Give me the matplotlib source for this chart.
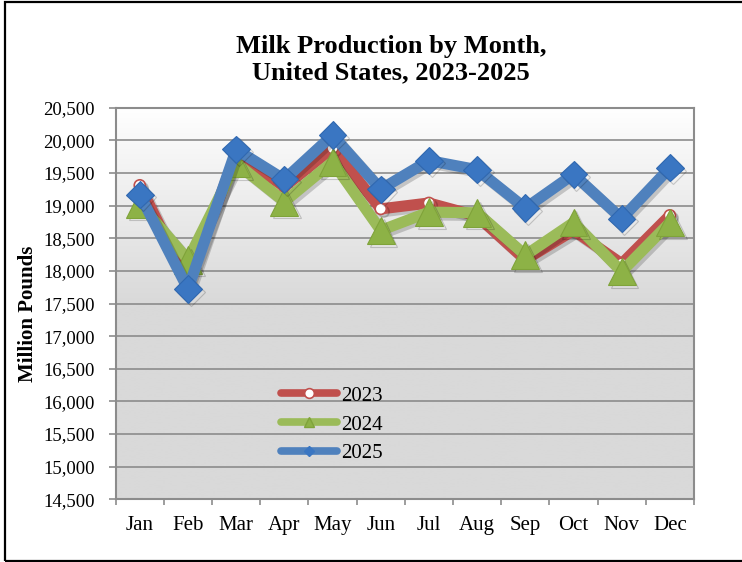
import numpy as np
import matplotlib
matplotlib.use("Agg")
import matplotlib.pyplot as plt
import matplotlib.patheffects as pe
from matplotlib.colors import LinearSegmentedColormap
from matplotlib.lines import Line2D
from matplotlib.patches import Rectangle
from matplotlib.ticker import FuncFormatter, FixedLocator

plt.rcParams['font.family'] = ['Liberation Serif', 'DejaVu Serif']

months = ['Jan', 'Feb', 'Mar', 'Apr', 'May', 'Jun', 'Jul', 'Aug', 'Sep', 'Oct', 'Nov', 'Dec']
prod_2023 = [19310, 17820, 19800, 19290, 19880, 18950, 19040, 18840, 18170, 18620, 18110, 18850]
prod_2024 = [19030, 18170, 19650, 19060, 19670, 18620, 18900, 18890, 18240, 18740, 17990, 18740]
prod_2025 = [19170, 17720, 19860, 19400, 20080, 19250, 19690, 19550, 18960, 19480, 18800, 19580]
years = ['2023', '2024', '2025']

W, H = 742, 562
fig = plt.figure(figsize=(W / 100, H / 100), dpi=100)
ax = fig.add_axes([115.7 / W, 1 - 499.3 / H, (694 - 115.7) / W, (499.3 - 107.7) / H])

# plot area gradient, white at top to grey lower down
grad_cmap = LinearSegmentedColormap.from_list('bg', ['#d9d9d9', '#d9d9d9', '#ffffff'])
grad = np.linspace(0, 1, 256).reshape(-1, 1)
ax.imshow(grad, extent=[-0.5, 11.5, 14500, 20500], aspect='auto', cmap=grad_cmap,
          origin='lower', zorder=0, interpolation='bicubic')

x = np.arange(len(months))
shadow = [pe.SimpleLineShadow(offset=(2, -2), shadow_color='black', alpha=0.18), pe.Normal()]

ax.plot(x, prod_2023, color='#c0504d', lw=8, solid_joinstyle='round', solid_capstyle='round',
        marker='o', ms=8, mfc='white', mec='#c0504d', mew=1.2, zorder=3, path_effects=shadow)
ax.plot(x, prod_2024, color='#9bbb59', lw=8, solid_joinstyle='round', solid_capstyle='round',
        marker='^', ms=20, mfc='#8db246', mec='#7fa33a', mew=0.8, zorder=4, path_effects=shadow)
ax.plot(x, prod_2025, color='#4f81bd', lw=8, solid_joinstyle='round', solid_capstyle='round',
        marker='D', ms=14, mfc='#3a76c2', mec='#3068b0', mew=0.8, zorder=5, path_effects=shadow)

ax.set_xlim(-0.5, 11.5)
ax.set_ylim(14500, 20500)

ax.yaxis.set_major_locator(FixedLocator(np.arange(14500, 20501, 500)))
ax.yaxis.set_major_formatter(FuncFormatter(lambda v, p: f'{int(v):,}'))
ax.set_xticks(x)
ax.set_xticklabels(months)
ax.set_xticks(np.arange(-0.5, 12, 1), minor=True)

ax.grid(axis='y', color='#8c8c8c', lw=1.2)
ax.set_axisbelow(True)
for s in ax.spines.values():
    s.set_color('#8c8c8c')
    s.set_linewidth(1.5)

ax.tick_params(axis='y', which='major', length=5, width=1.2, color='#8c8c8c',
               labelsize=13.5, pad=10)
ax.tick_params(axis='x', which='major', length=0, labelsize=15, pad=12)
ax.tick_params(axis='x', which='minor', length=4, width=1.2, color='#8c8c8c')

ax.set_ylabel('Million Pounds', fontsize=15, fontweight='bold')
ax.yaxis.set_label_coords(-0.135, 0.473)

fig.text(391 / W, 1 - 59.5 / H, 'Milk Production by Month,\nUnited States, 2023-2025',
         ha='center', va='center', fontsize=19, fontweight='bold', linespacing=1.2)

# legend with small markers, like the original
handles = [
    Line2D([], [], color='#c0504d', lw=5.5, solid_capstyle='round', marker='o', ms=7,
           mfc='white', mec='#c0504d', mew=1.2),
    Line2D([], [], color='#9bbb59', lw=5.5, solid_capstyle='round', marker='^', ms=7,
           mfc='#8db246', mec='#7fa33a'),
    Line2D([], [], color='#4f81bd', lw=5.5, solid_capstyle='round', marker='D', ms=5,
           mfc='#3a76c2', mec='#3a76c2'),
]
fig.legend(handles, years, loc='upper left', bbox_to_anchor=(281 / W, 1 - 386 / H),
           frameon=False, fontsize=15, handlelength=2.7, handletextpad=0.2,
           labelspacing=0.45, borderpad=0, borderaxespad=0)

# outer frame
fig.patches.append(Rectangle((5 / W, 1 / H), 1.2, 1 - 2.5 / H, transform=fig.transFigure,
                             fill=False, edgecolor='black', lw=1.6, zorder=10))

fig.savefig('out.png', dpi=100)
